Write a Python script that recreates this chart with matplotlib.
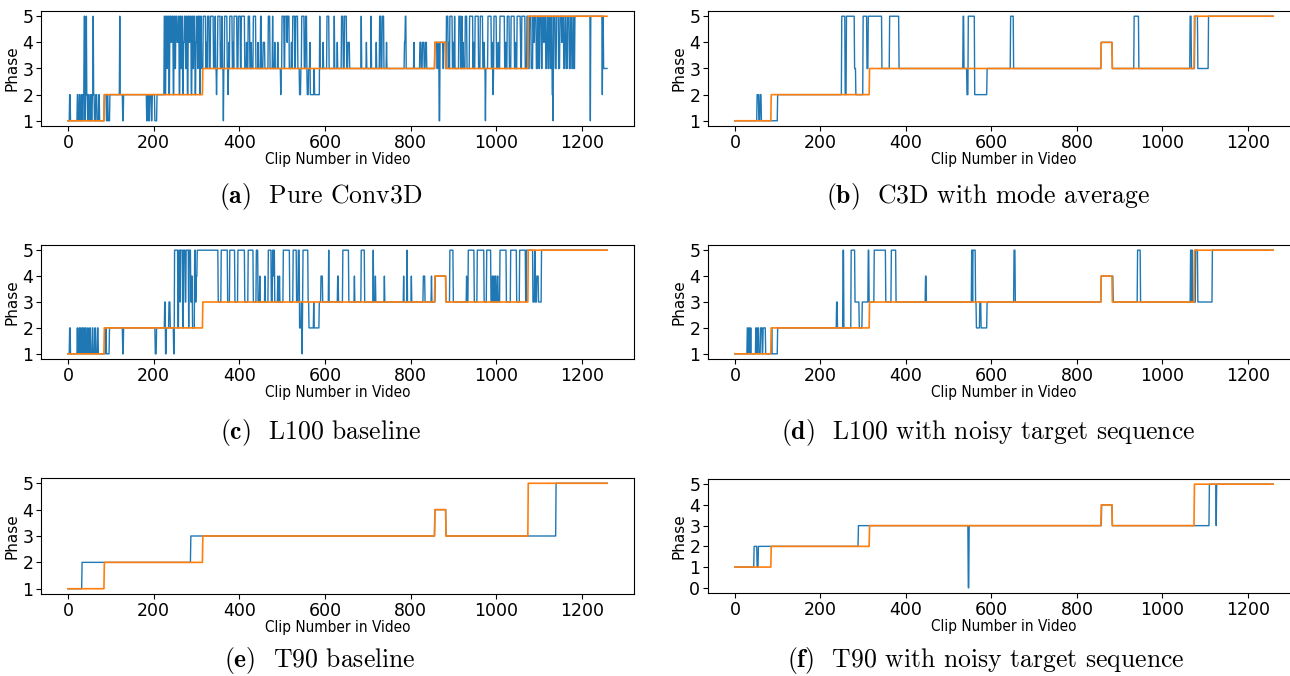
import matplotlib
matplotlib.use('Agg')
import matplotlib.pyplot as plt
import numpy as np

N_CLIPS = 1260

# run-length lists: [first clip, phase]
truth_runs = [[0, 1], [85, 2], [315, 3], [857, 4], [883, 3], [1075, 5]]

pure_conv3d_runs = [
    [0, 1], [4, 2], [6, 1], [22, 2], [24, 1], [27, 2], [29, 1], [32, 2], [34, 1], [36, 2], [38, 5], [40, 1],
    [41, 2], [43, 5], [44, 2], [46, 1], [48, 2], [50, 1], [53, 2], [55, 1], [57, 2], [59, 5], [60, 2], [62, 1],
    [65, 2], [68, 1], [72, 2], [74, 1], [85, 2], [90, 1], [92, 2], [94, 1], [98, 2], [121, 5], [122, 2],
    [128, 1], [130, 2], [184, 1], [186, 2], [189, 1], [191, 2], [195, 1], [197, 2], [203, 1], [208, 2],
    [225, 5], [227, 2], [229, 5], [231, 3], [233, 5], [236, 2], [238, 5], [241, 4], [243, 5], [246, 2],
    [248, 5], [250, 3], [252, 5], [255, 4], [258, 5], [260, 2], [262, 5], [264, 3], [266, 5], [268, 2],
    [270, 4], [272, 5], [275, 3], [277, 5], [279, 2], [281, 5], [283, 4], [285, 5], [288, 2], [290, 5],
    [292, 3], [294, 5], [297, 2], [299, 4], [301, 5], [303, 3], [305, 5], [308, 2], [310, 5], [312, 3],
    [316, 5], [322, 3], [324, 4], [325, 3], [326, 5], [330, 3], [333, 5], [340, 3], [342, 4], [343, 3],
    [344, 5], [345, 3], [347, 2], [348, 3], [350, 5], [356, 3], [358, 4], [359, 3], [360, 5], [361, 3],
    [363, 1], [364, 3], [366, 5], [372, 3], [374, 2], [375, 3], [376, 4], [377, 3], [378, 5], [384, 3],
    [386, 4], [387, 3], [388, 5], [395, 3], [398, 5], [403, 3], [405, 5], [413, 3], [417, 4], [418, 3],
    [421, 5], [425, 3], [428, 4], [429, 3], [433, 5], [439, 3], [444, 4], [445, 3], [450, 5], [452, 3],
    [456, 4], [460, 3], [468, 5], [472, 3], [478, 5], [479, 3], [483, 4], [484, 3], [490, 4], [491, 3],
    [497, 2], [498, 3], [500, 5], [505, 3], [507, 5], [512, 4], [513, 5], [517, 3], [522, 4], [523, 3],
    [525, 5], [530, 3], [532, 5], [537, 3], [541, 2], [544, 3], [546, 5], [552, 3], [555, 5], [558, 3],
    [559, 2], [562, 3], [565, 4], [566, 2], [575, 3], [576, 2], [588, 5], [589, 3], [596, 4], [597, 3],
    [605, 5], [610, 3], [622, 5], [623, 3], [629, 4], [630, 3], [639, 5], [643, 3], [646, 5], [651, 3],
    [654, 4], [658, 3], [685, 5], [686, 3], [697, 4], [698, 3], [708, 5], [709, 3], [720, 4], [721, 3],
    [728, 5], [731, 3], [734, 5], [738, 3], [744, 4], [745, 3], [786, 4], [788, 5], [790, 3], [808, 4],
    [809, 3], [822, 4], [825, 3], [828, 4], [832, 3], [835, 4], [838, 3], [857, 4], [862, 3], [864, 4],
    [867, 1], [869, 4], [876, 3], [878, 4], [883, 3], [884, 5], [888, 3], [890, 4], [891, 3], [892, 5],
    [898, 3], [900, 4], [901, 3], [903, 5], [904, 3], [913, 5], [917, 3], [920, 5], [921, 3], [923, 4],
    [924, 3], [928, 5], [932, 3], [938, 5], [946, 3], [947, 4], [948, 3], [951, 5], [959, 3], [963, 5],
    [969, 3], [972, 4], [973, 3], [975, 1], [976, 3], [981, 5], [989, 3], [991, 4], [992, 3], [993, 2],
    [994, 3], [995, 5], [1001, 3], [1005, 4], [1006, 3], [1009, 5], [1020, 3], [1022, 4], [1023, 3],
    [1026, 5], [1031, 3], [1035, 5], [1043, 3], [1045, 4], [1046, 3], [1049, 5], [1057, 4], [1058, 3],
    [1060, 5], [1068, 3], [1072, 5], [1075, 3], [1078, 5], [1082, 3], [1086, 5], [1088, 4], [1090, 5],
    [1094, 3], [1097, 5], [1100, 3], [1102, 5], [1106, 3], [1108, 5], [1111, 4], [1113, 5], [1116, 3],
    [1119, 5], [1122, 3], [1124, 5], [1127, 3], [1129, 5], [1131, 2], [1133, 1], [1134, 5], [1138, 3],
    [1141, 5], [1146, 3], [1149, 5], [1153, 4], [1155, 5], [1158, 3], [1161, 5], [1164, 3], [1167, 5],
    [1171, 3], [1174, 5], [1177, 3], [1180, 5], [1182, 3], [1184, 5], [1220, 1], [1221, 5], [1248, 2],
    [1249, 5], [1251, 3],
]

c3d_mode_runs = [
    [0, 1], [52, 2], [56, 1], [59, 2], [62, 1], [100, 2], [250, 5], [258, 2], [261, 5], [280, 3], [283, 2],
    [300, 5], [309, 3], [312, 5], [344, 3], [362, 5], [384, 3], [534, 5], [536, 3], [543, 2], [546, 5],
    [561, 2], [590, 3], [645, 5], [652, 3], [857, 4], [883, 3], [934, 5], [945, 3], [1065, 5], [1068, 3],
    [1076, 5], [1083, 3], [1108, 5],
]

l100_runs = [
    [0, 1], [4, 2], [6, 1], [22, 2], [23, 1], [26, 2], [28, 1], [30, 2], [32, 1], [34, 2], [35, 1], [37, 2],
    [39, 1], [41, 2], [43, 1], [46, 2], [48, 1], [51, 2], [53, 1], [57, 2], [59, 1], [63, 2], [65, 1],
    [69, 2], [71, 1], [88, 2], [90, 1], [97, 2], [128, 1], [130, 2], [204, 1], [207, 2], [226, 3], [228, 1],
    [230, 2], [236, 3], [239, 2], [247, 1], [249, 5], [257, 2], [259, 5], [262, 3], [263, 5], [268, 2],
    [270, 5], [274, 3], [276, 5], [282, 2], [283, 5], [287, 3], [289, 4], [291, 2], [296, 5], [298, 3],
    [300, 4], [302, 5], [351, 3], [358, 5], [373, 3], [378, 5], [390, 3], [397, 5], [413, 3], [421, 5],
    [433, 3], [440, 5], [444, 3], [448, 4], [449, 3], [460, 4], [461, 3], [468, 5], [475, 3], [478, 5],
    [479, 4], [480, 5], [483, 3], [490, 4], [491, 3], [494, 4], [495, 3], [503, 5], [518, 3], [526, 5],
    [534, 3], [538, 5], [541, 2], [545, 3], [547, 1], [548, 3], [549, 5], [561, 3], [563, 2], [574, 3],
    [575, 2], [587, 3], [591, 4], [595, 3], [609, 5], [610, 3], [630, 4], [632, 3], [642, 5], [656, 3],
    [669, 4], [670, 3], [685, 5], [693, 3], [713, 5], [714, 3], [718, 4], [719, 3], [739, 4], [740, 3],
    [784, 4], [785, 3], [792, 5], [793, 3], [802, 4], [803, 3], [830, 4], [834, 3], [849, 4], [850, 3],
    [858, 4], [883, 3], [892, 5], [900, 3], [931, 4], [932, 3], [935, 5], [949, 3], [956, 5], [972, 3],
    [978, 5], [988, 3], [991, 4], [993, 3], [995, 4], [996, 3], [998, 4], [1000, 3], [1003, 4], [1005, 3],
    [1009, 5], [1024, 3], [1034, 5], [1048, 3], [1055, 5], [1069, 3], [1071, 5], [1086, 3], [1090, 5],
    [1092, 3], [1095, 4], [1099, 3], [1106, 5],
]

l100_noisy_runs = [
    [0, 1], [29, 2], [31, 1], [33, 2], [35, 1], [37, 2], [38, 1], [49, 2], [51, 1], [53, 2], [56, 1],
    [60, 2], [64, 1], [66, 2], [72, 1], [86, 2], [87, 1], [100, 2], [238, 3], [240, 2], [253, 5], [255, 2],
    [272, 5], [281, 3], [291, 2], [298, 3], [312, 5], [314, 3], [326, 5], [353, 3], [366, 5], [377, 3],
    [446, 4], [448, 3], [554, 5], [556, 3], [557, 5], [563, 3], [565, 2], [573, 3], [576, 2], [590, 3],
    [653, 5], [656, 3], [857, 4], [885, 3], [942, 5], [949, 3], [1066, 5], [1068, 3], [1069, 5], [1071, 3],
    [1078, 5], [1083, 3], [1117, 5],
]

t90_runs = [[0, 1], [33, 2], [287, 3], [857, 4], [883, 3], [1140, 5]]

t90_noisy_runs = [
    [0, 1], [45, 2], [52, 1], [55, 2], [289, 3], [546, 0], [548, 3], [858, 4], [883, 3], [1110, 5],
    [1126, 3], [1127, 5],
]

captions = ['Pure Conv3D', 'C3D with mode average', 'L100 baseline',
            'L100 with noisy target sequence', 'T90 baseline', 'T90 with noisy target sequence']
letters = ['a', 'b', 'c', 'd', 'e', 'f']
preds = [pure_conv3d_runs, c3d_mode_runs, l100_runs, l100_noisy_runs, t90_runs, t90_noisy_runs]


def expand(runs, n_clips):
    starts = [r[0] for r in runs] + [n_clips]
    vals = [r[1] for r in runs]
    return np.repeat(vals, np.diff(starts))


W, H = 1290, 676
# pixel boxes (left, top, right, bottom) of each axes
boxes = [(41, 11, 634, 126), (708, 11, 1300, 126),
         (41, 245, 634, 359), (708, 245, 1300, 359),
         (41, 478, 634, 594), (708, 479, 1300, 593)]
cap_pos = [(321, 197), (988, 197), (321, 432), (988, 432), (320, 660), (986, 660)]

plt.rcParams['mathtext.fontset'] = 'cm'
plt.rcParams['axes.unicode_minus'] = False

fig = plt.figure(figsize=(W / 100, H / 100), dpi=100)
clips = np.arange(N_CLIPS)
truth = expand(truth_runs, N_CLIPS)

for i, runs in enumerate(preds):
    l, t, r, b = boxes[i]
    ax = fig.add_axes([l / W, 1 - b / H, (r - l) / W, (b - t) / H])
    pred = expand(runs, N_CLIPS)
    ax.plot(clips, pred, color='#1f77b4', lw=1.0)
    ax.plot(clips, truth, color='#ff7f0e', lw=1.2)
    lo = min(pred.min(), truth.min())
    ax.set_yticks(np.arange(lo, 6))
    ax.set_xticks([0, 200, 400, 600, 800, 1000, 1200])
    ax.tick_params(labelsize=12.5, pad=2)
    ax.set_ylabel('Phase', fontsize=11, labelpad=2)
    ax.set_xlabel('Clip Number in Video', fontsize=11, fontstretch='condensed', labelpad=0)

    cx, cy = cap_pos[i]
    fig.text(cx / W, 1 - cy / H, r'$\mathbf{(%s)}$  %s' % (letters[i], captions[i]),
             ha='center', va='center', fontsize=18.5, family='cmr10')

fig.savefig('out.png', dpi=100)
